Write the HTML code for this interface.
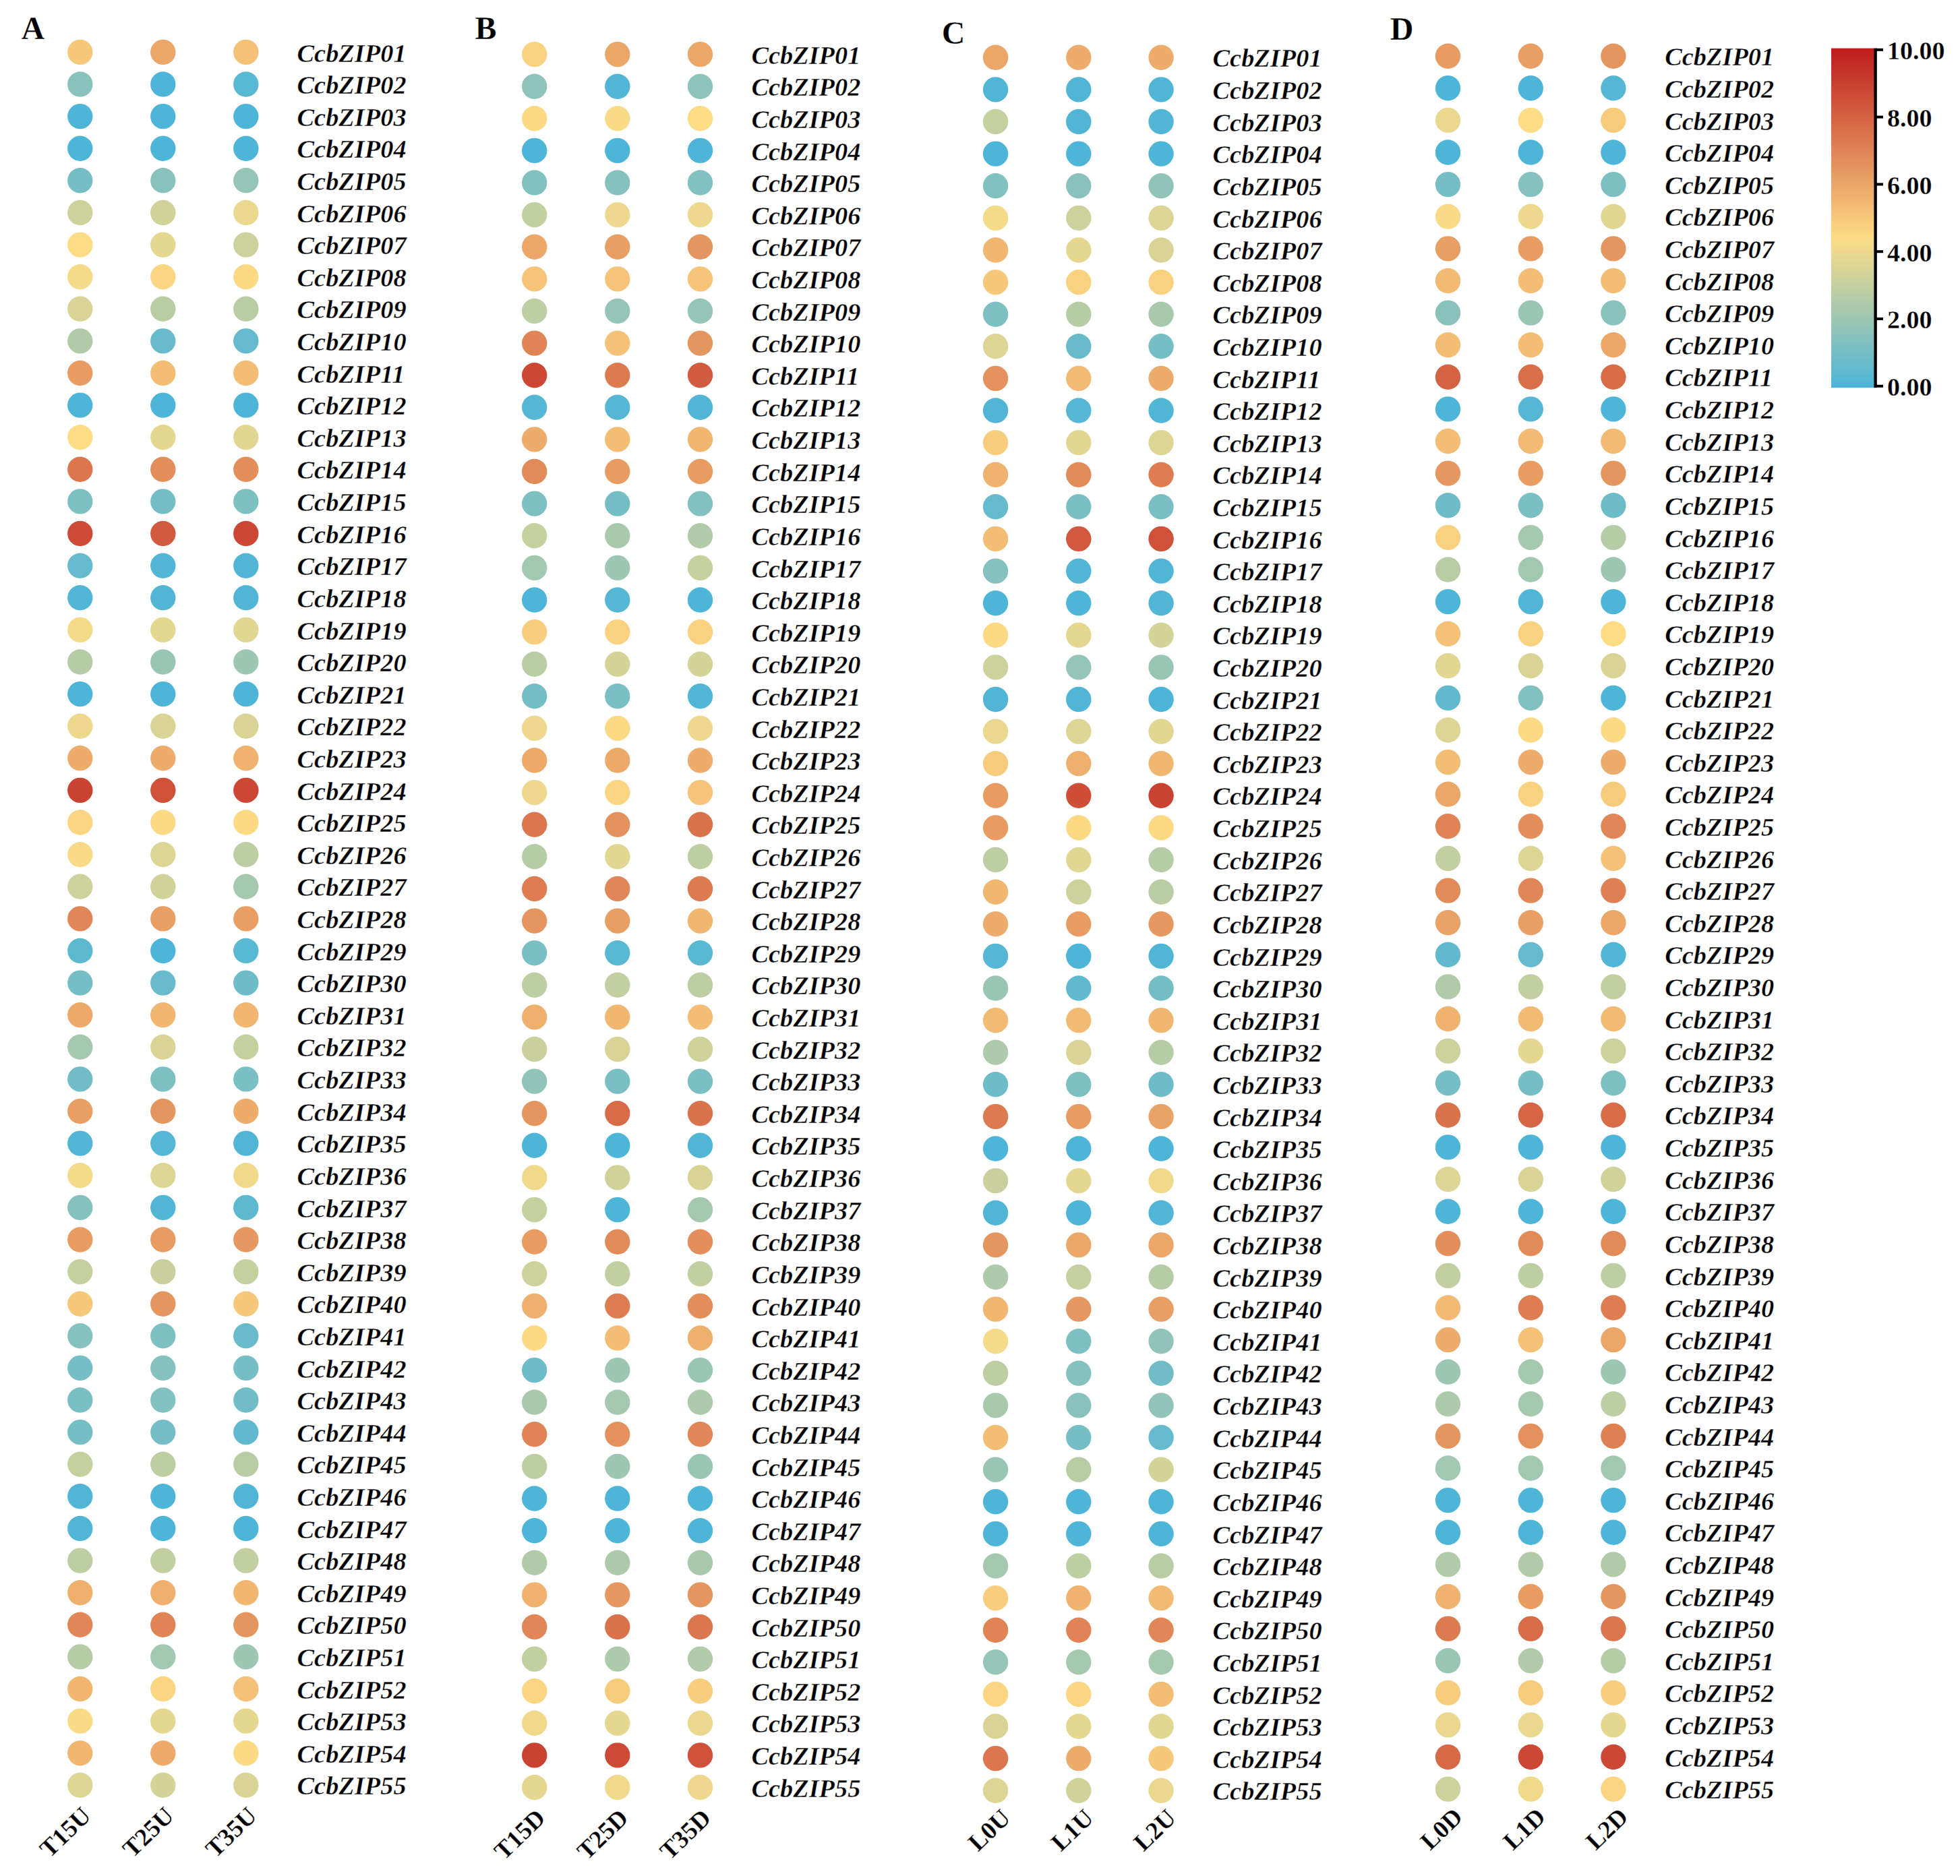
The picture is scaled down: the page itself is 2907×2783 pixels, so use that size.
<!DOCTYPE html>
<html><head><meta charset="utf-8"><title>CcbZIP expression heatmap</title>
<style>
html,body{margin:0;padding:0;background:#fff}
svg{display:block}
text{font-family:"Liberation Serif",serif;fill:#000}
.g{font-size:38.4px;font-weight:bold;font-style:italic;stroke:#fff;stroke-width:0.4px}
.c{font-size:37px;font-weight:bold;text-anchor:end;stroke:#fff;stroke-width:0.3px}
.L{font-size:48px;font-weight:bold;stroke:#fff;stroke-width:0.3px}
.t{font-size:38px;font-weight:bold;stroke:#fff;stroke-width:0.3px}
</style></head><body>
<svg width="2907" height="2783" viewBox="0 0 2907 2783">
<defs><linearGradient id="cb" gradientUnits="userSpaceOnUse" x1="0" y1="572.8" x2="0" y2="73.8"><stop offset="0" stop-color="#4db5d8"/><stop offset="0.440" stop-color="#fddc85"/><stop offset="1" stop-color="#be1e1e"/></linearGradient></defs>
<rect width="2907" height="2783" fill="#fff"/>
<g id="panelA">
<text class="L" x="31.6" y="57.5">A</text>
<circle cx="118.8" cy="77.4" r="18.7" fill="#f6c87a"/><circle cx="241.8" cy="77.4" r="18.7" fill="#eba668"/><circle cx="364.8" cy="77.4" r="18.7" fill="#f4c176"/><text class="g" x="440.5" y="91.5">CcbZIP01</text>
<circle cx="118.8" cy="125.0" r="18.7" fill="#89c2bc"/><circle cx="241.8" cy="125.0" r="18.7" fill="#4db5d8"/><circle cx="364.8" cy="125.0" r="18.7" fill="#59b8d2"/><text class="g" x="440.5" y="139.1">CcbZIP02</text>
<circle cx="118.8" cy="172.6" r="18.7" fill="#4db5d8"/><circle cx="241.8" cy="172.6" r="18.7" fill="#4db5d8"/><circle cx="364.8" cy="172.6" r="18.7" fill="#4db5d8"/><text class="g" x="440.5" y="186.7">CcbZIP03</text>
<circle cx="118.8" cy="220.2" r="18.7" fill="#4db5d8"/><circle cx="241.8" cy="220.2" r="18.7" fill="#4db5d8"/><circle cx="364.8" cy="220.2" r="18.7" fill="#4db5d8"/><text class="g" x="440.5" y="234.3">CcbZIP04</text>
<circle cx="118.8" cy="267.8" r="18.7" fill="#75bec5"/><circle cx="241.8" cy="267.8" r="18.7" fill="#89c2bc"/><circle cx="364.8" cy="267.8" r="18.7" fill="#95c5b6"/><text class="g" x="440.5" y="281.9">CcbZIP05</text>
<circle cx="118.8" cy="315.5" r="18.7" fill="#cdd19c"/><circle cx="241.8" cy="315.5" r="18.7" fill="#d1d29a"/><circle cx="364.8" cy="315.5" r="18.7" fill="#e9d88e"/><text class="g" x="440.5" y="329.6">CcbZIP06</text>
<circle cx="118.8" cy="363.1" r="18.7" fill="#fddc85"/><circle cx="241.8" cy="363.1" r="18.7" fill="#e5d790"/><circle cx="364.8" cy="363.1" r="18.7" fill="#cdd19c"/><text class="g" x="440.5" y="377.2">CcbZIP07</text>
<circle cx="118.8" cy="410.7" r="18.7" fill="#f5da89"/><circle cx="241.8" cy="410.7" r="18.7" fill="#fbd581"/><circle cx="364.8" cy="410.7" r="18.7" fill="#fcd983"/><text class="g" x="440.5" y="424.8">CcbZIP08</text>
<circle cx="118.8" cy="458.3" r="18.7" fill="#d9d496"/><circle cx="241.8" cy="458.3" r="18.7" fill="#b9cda5"/><circle cx="364.8" cy="458.3" r="18.7" fill="#b9cda5"/><text class="g" x="440.5" y="472.4">CcbZIP09</text>
<circle cx="118.8" cy="505.9" r="18.7" fill="#b1cba9"/><circle cx="241.8" cy="505.9" r="18.7" fill="#69bbcb"/><circle cx="364.8" cy="505.9" r="18.7" fill="#65bacd"/><text class="g" x="440.5" y="520.0">CcbZIP10</text>
<circle cx="118.8" cy="553.5" r="18.7" fill="#e89c62"/><circle cx="241.8" cy="553.5" r="18.7" fill="#f3bd74"/><circle cx="364.8" cy="553.5" r="18.7" fill="#f3bd74"/><text class="g" x="440.5" y="567.6">CcbZIP11</text>
<circle cx="118.8" cy="601.1" r="18.7" fill="#4db5d8"/><circle cx="241.8" cy="601.1" r="18.7" fill="#4db5d8"/><circle cx="364.8" cy="601.1" r="18.7" fill="#4db5d8"/><text class="g" x="440.5" y="615.2">CcbZIP12</text>
<circle cx="118.8" cy="648.7" r="18.7" fill="#fddc85"/><circle cx="241.8" cy="648.7" r="18.7" fill="#e5d790"/><circle cx="364.8" cy="648.7" r="18.7" fill="#e1d692"/><text class="g" x="440.5" y="662.8">CcbZIP13</text>
<circle cx="118.8" cy="696.3" r="18.7" fill="#db764e"/><circle cx="241.8" cy="696.3" r="18.7" fill="#e38e5b"/><circle cx="364.8" cy="696.3" r="18.7" fill="#e38e5b"/><text class="g" x="440.5" y="710.4">CcbZIP14</text>
<circle cx="118.8" cy="743.9" r="18.7" fill="#7dc0c1"/><circle cx="241.8" cy="743.9" r="18.7" fill="#75bec5"/><circle cx="364.8" cy="743.9" r="18.7" fill="#7dc0c1"/><text class="g" x="440.5" y="758.0">CcbZIP15</text>
<circle cx="118.8" cy="791.5" r="18.7" fill="#cd4a36"/><circle cx="241.8" cy="791.5" r="18.7" fill="#d25b3f"/><circle cx="364.8" cy="791.5" r="18.7" fill="#cc4734"/><text class="g" x="440.5" y="805.6">CcbZIP16</text>
<circle cx="118.8" cy="839.2" r="18.7" fill="#65bacd"/><circle cx="241.8" cy="839.2" r="18.7" fill="#51b6d6"/><circle cx="364.8" cy="839.2" r="18.7" fill="#51b6d6"/><text class="g" x="440.5" y="853.3">CcbZIP17</text>
<circle cx="118.8" cy="886.8" r="18.7" fill="#51b6d6"/><circle cx="241.8" cy="886.8" r="18.7" fill="#51b6d6"/><circle cx="364.8" cy="886.8" r="18.7" fill="#51b6d6"/><text class="g" x="440.5" y="900.9">CcbZIP18</text>
<circle cx="118.8" cy="934.4" r="18.7" fill="#f5da89"/><circle cx="241.8" cy="934.4" r="18.7" fill="#e5d790"/><circle cx="364.8" cy="934.4" r="18.7" fill="#e1d692"/><text class="g" x="440.5" y="948.5">CcbZIP19</text>
<circle cx="118.8" cy="982.0" r="18.7" fill="#b5cca7"/><circle cx="241.8" cy="982.0" r="18.7" fill="#99c6b4"/><circle cx="364.8" cy="982.0" r="18.7" fill="#9dc7b2"/><text class="g" x="440.5" y="996.1">CcbZIP20</text>
<circle cx="118.8" cy="1029.6" r="18.7" fill="#4db5d8"/><circle cx="241.8" cy="1029.6" r="18.7" fill="#4db5d8"/><circle cx="364.8" cy="1029.6" r="18.7" fill="#4db5d8"/><text class="g" x="440.5" y="1043.7">CcbZIP21</text>
<circle cx="118.8" cy="1077.2" r="18.7" fill="#edd88d"/><circle cx="241.8" cy="1077.2" r="18.7" fill="#d9d496"/><circle cx="364.8" cy="1077.2" r="18.7" fill="#d9d496"/><text class="g" x="440.5" y="1091.3">CcbZIP22</text>
<circle cx="118.8" cy="1124.8" r="18.7" fill="#edac6b"/><circle cx="241.8" cy="1124.8" r="18.7" fill="#edac6b"/><circle cx="364.8" cy="1124.8" r="18.7" fill="#f0b36f"/><text class="g" x="440.5" y="1138.9">CcbZIP23</text>
<circle cx="118.8" cy="1172.4" r="18.7" fill="#ca4332"/><circle cx="241.8" cy="1172.4" r="18.7" fill="#cf513a"/><circle cx="364.8" cy="1172.4" r="18.7" fill="#cc4734"/><text class="g" x="440.5" y="1186.5">CcbZIP24</text>
<circle cx="118.8" cy="1220.0" r="18.7" fill="#fbd581"/><circle cx="241.8" cy="1220.0" r="18.7" fill="#fcd983"/><circle cx="364.8" cy="1220.0" r="18.7" fill="#fcd983"/><text class="g" x="440.5" y="1234.1">CcbZIP25</text>
<circle cx="118.8" cy="1267.7" r="18.7" fill="#f9db87"/><circle cx="241.8" cy="1267.7" r="18.7" fill="#ddd594"/><circle cx="364.8" cy="1267.7" r="18.7" fill="#bdcea3"/><text class="g" x="440.5" y="1281.8">CcbZIP26</text>
<circle cx="118.8" cy="1315.3" r="18.7" fill="#cdd19c"/><circle cx="241.8" cy="1315.3" r="18.7" fill="#d1d29a"/><circle cx="364.8" cy="1315.3" r="18.7" fill="#a5c8ae"/><text class="g" x="440.5" y="1329.4">CcbZIP27</text>
<circle cx="118.8" cy="1362.9" r="18.7" fill="#e18757"/><circle cx="241.8" cy="1362.9" r="18.7" fill="#e99f64"/><circle cx="364.8" cy="1362.9" r="18.7" fill="#e99f64"/><text class="g" x="440.5" y="1377.0">CcbZIP28</text>
<circle cx="118.8" cy="1410.5" r="18.7" fill="#5db9d0"/><circle cx="241.8" cy="1410.5" r="18.7" fill="#4db5d8"/><circle cx="364.8" cy="1410.5" r="18.7" fill="#59b8d2"/><text class="g" x="440.5" y="1424.6">CcbZIP29</text>
<circle cx="118.8" cy="1458.1" r="18.7" fill="#75bec5"/><circle cx="241.8" cy="1458.1" r="18.7" fill="#69bbcb"/><circle cx="364.8" cy="1458.1" r="18.7" fill="#6dbcc9"/><text class="g" x="440.5" y="1472.2">CcbZIP30</text>
<circle cx="118.8" cy="1505.7" r="18.7" fill="#eca969"/><circle cx="241.8" cy="1505.7" r="18.7" fill="#f1b771"/><circle cx="364.8" cy="1505.7" r="18.7" fill="#f1b771"/><text class="g" x="440.5" y="1519.8">CcbZIP31</text>
<circle cx="118.8" cy="1553.3" r="18.7" fill="#a5c8ae"/><circle cx="241.8" cy="1553.3" r="18.7" fill="#d9d496"/><circle cx="364.8" cy="1553.3" r="18.7" fill="#c5d09f"/><text class="g" x="440.5" y="1567.4">CcbZIP32</text>
<circle cx="118.8" cy="1600.9" r="18.7" fill="#71bdc7"/><circle cx="241.8" cy="1600.9" r="18.7" fill="#7dc0c1"/><circle cx="364.8" cy="1600.9" r="18.7" fill="#79bfc3"/><text class="g" x="440.5" y="1615.0">CcbZIP33</text>
<circle cx="118.8" cy="1648.5" r="18.7" fill="#e99f64"/><circle cx="241.8" cy="1648.5" r="18.7" fill="#e5955e"/><circle cx="364.8" cy="1648.5" r="18.7" fill="#edac6b"/><text class="g" x="440.5" y="1662.6">CcbZIP34</text>
<circle cx="118.8" cy="1696.1" r="18.7" fill="#51b6d6"/><circle cx="241.8" cy="1696.1" r="18.7" fill="#55b7d4"/><circle cx="364.8" cy="1696.1" r="18.7" fill="#51b6d6"/><text class="g" x="440.5" y="1710.2">CcbZIP35</text>
<circle cx="118.8" cy="1743.8" r="18.7" fill="#f5da89"/><circle cx="241.8" cy="1743.8" r="18.7" fill="#ddd594"/><circle cx="364.8" cy="1743.8" r="18.7" fill="#f1d98b"/><text class="g" x="440.5" y="1757.8">CcbZIP36</text>
<circle cx="118.8" cy="1791.4" r="18.7" fill="#85c1be"/><circle cx="241.8" cy="1791.4" r="18.7" fill="#51b6d6"/><circle cx="364.8" cy="1791.4" r="18.7" fill="#5db9d0"/><text class="g" x="440.5" y="1805.5">CcbZIP37</text>
<circle cx="118.8" cy="1839.0" r="18.7" fill="#e89c62"/><circle cx="241.8" cy="1839.0" r="18.7" fill="#e89c62"/><circle cx="364.8" cy="1839.0" r="18.7" fill="#e69860"/><text class="g" x="440.5" y="1853.1">CcbZIP38</text>
<circle cx="118.8" cy="1886.6" r="18.7" fill="#c5d09f"/><circle cx="241.8" cy="1886.6" r="18.7" fill="#c9d09e"/><circle cx="364.8" cy="1886.6" r="18.7" fill="#c5d09f"/><text class="g" x="440.5" y="1900.7">CcbZIP39</text>
<circle cx="118.8" cy="1934.2" r="18.7" fill="#f6c87a"/><circle cx="241.8" cy="1934.2" r="18.7" fill="#e5955e"/><circle cx="364.8" cy="1934.2" r="18.7" fill="#f6c87a"/><text class="g" x="440.5" y="1948.3">CcbZIP40</text>
<circle cx="118.8" cy="1981.8" r="18.7" fill="#85c1be"/><circle cx="241.8" cy="1981.8" r="18.7" fill="#7dc0c1"/><circle cx="364.8" cy="1981.8" r="18.7" fill="#69bbcb"/><text class="g" x="440.5" y="1995.9">CcbZIP41</text>
<circle cx="118.8" cy="2029.4" r="18.7" fill="#75bec5"/><circle cx="241.8" cy="2029.4" r="18.7" fill="#85c1be"/><circle cx="364.8" cy="2029.4" r="18.7" fill="#75bec5"/><text class="g" x="440.5" y="2043.5">CcbZIP42</text>
<circle cx="118.8" cy="2077.0" r="18.7" fill="#79bfc3"/><circle cx="241.8" cy="2077.0" r="18.7" fill="#81c1bf"/><circle cx="364.8" cy="2077.0" r="18.7" fill="#71bdc7"/><text class="g" x="440.5" y="2091.1">CcbZIP43</text>
<circle cx="118.8" cy="2124.6" r="18.7" fill="#75bec5"/><circle cx="241.8" cy="2124.6" r="18.7" fill="#75bec5"/><circle cx="364.8" cy="2124.6" r="18.7" fill="#61b9cf"/><text class="g" x="440.5" y="2138.7">CcbZIP44</text>
<circle cx="118.8" cy="2172.2" r="18.7" fill="#c5d09f"/><circle cx="241.8" cy="2172.2" r="18.7" fill="#bdcea3"/><circle cx="364.8" cy="2172.2" r="18.7" fill="#b9cda5"/><text class="g" x="440.5" y="2186.3">CcbZIP45</text>
<circle cx="118.8" cy="2219.8" r="18.7" fill="#51b6d6"/><circle cx="241.8" cy="2219.8" r="18.7" fill="#4db5d8"/><circle cx="364.8" cy="2219.8" r="18.7" fill="#51b6d6"/><text class="g" x="440.5" y="2233.9">CcbZIP46</text>
<circle cx="118.8" cy="2267.5" r="18.7" fill="#51b6d6"/><circle cx="241.8" cy="2267.5" r="18.7" fill="#4db5d8"/><circle cx="364.8" cy="2267.5" r="18.7" fill="#4db5d8"/><text class="g" x="440.5" y="2281.6">CcbZIP47</text>
<circle cx="118.8" cy="2315.1" r="18.7" fill="#bdcea3"/><circle cx="241.8" cy="2315.1" r="18.7" fill="#c1cfa1"/><circle cx="364.8" cy="2315.1" r="18.7" fill="#c1cfa1"/><text class="g" x="440.5" y="2329.2">CcbZIP48</text>
<circle cx="118.8" cy="2362.7" r="18.7" fill="#eeb06d"/><circle cx="241.8" cy="2362.7" r="18.7" fill="#eeb06d"/><circle cx="364.8" cy="2362.7" r="18.7" fill="#f1b771"/><text class="g" x="440.5" y="2376.8">CcbZIP49</text>
<circle cx="118.8" cy="2410.3" r="18.7" fill="#e18757"/><circle cx="241.8" cy="2410.3" r="18.7" fill="#e08455"/><circle cx="364.8" cy="2410.3" r="18.7" fill="#e5955e"/><text class="g" x="440.5" y="2424.4">CcbZIP50</text>
<circle cx="118.8" cy="2457.9" r="18.7" fill="#b5cca7"/><circle cx="241.8" cy="2457.9" r="18.7" fill="#a1c8b0"/><circle cx="364.8" cy="2457.9" r="18.7" fill="#9dc7b2"/><text class="g" x="440.5" y="2472.0">CcbZIP51</text>
<circle cx="118.8" cy="2505.5" r="18.7" fill="#f1b771"/><circle cx="241.8" cy="2505.5" r="18.7" fill="#fbd581"/><circle cx="364.8" cy="2505.5" r="18.7" fill="#f4c176"/><text class="g" x="440.5" y="2519.6">CcbZIP52</text>
<circle cx="118.8" cy="2553.1" r="18.7" fill="#f9db87"/><circle cx="241.8" cy="2553.1" r="18.7" fill="#e5d790"/><circle cx="364.8" cy="2553.1" r="18.7" fill="#e5d790"/><text class="g" x="440.5" y="2567.2">CcbZIP53</text>
<circle cx="118.8" cy="2600.7" r="18.7" fill="#f1b771"/><circle cx="241.8" cy="2600.7" r="18.7" fill="#eca969"/><circle cx="364.8" cy="2600.7" r="18.7" fill="#fcd983"/><text class="g" x="440.5" y="2614.8">CcbZIP54</text>
<circle cx="118.8" cy="2648.3" r="18.7" fill="#ddd594"/><circle cx="241.8" cy="2648.3" r="18.7" fill="#d5d398"/><circle cx="364.8" cy="2648.3" r="18.7" fill="#d9d496"/><text class="g" x="440.5" y="2662.4">CcbZIP55</text>
<text class="c" transform="translate(137.1 2696.2) rotate(-44)">T15U</text>
<text class="c" transform="translate(260.1 2696.2) rotate(-44)">T25U</text>
<text class="c" transform="translate(383.1 2696.2) rotate(-44)">T35U</text>
</g>
<g id="panelB">
<text class="L" x="704.4" y="57.8">B</text>
<circle cx="792.7" cy="80.6" r="18.7" fill="#fad27f"/><circle cx="915.8" cy="80.6" r="18.7" fill="#eba668"/><circle cx="1038.5" cy="80.6" r="18.7" fill="#eba668"/><text class="g" x="1114.4" y="94.7">CcbZIP01</text>
<circle cx="792.7" cy="128.2" r="18.7" fill="#8dc3ba"/><circle cx="915.8" cy="128.2" r="18.7" fill="#51b6d6"/><circle cx="1038.5" cy="128.2" r="18.7" fill="#8dc3ba"/><text class="g" x="1114.4" y="142.3">CcbZIP02</text>
<circle cx="792.7" cy="175.8" r="18.7" fill="#fcd983"/><circle cx="915.8" cy="175.8" r="18.7" fill="#f9db87"/><circle cx="1038.5" cy="175.8" r="18.7" fill="#fddc85"/><text class="g" x="1114.4" y="189.9">CcbZIP03</text>
<circle cx="792.7" cy="223.4" r="18.7" fill="#4db5d8"/><circle cx="915.8" cy="223.4" r="18.7" fill="#4db5d8"/><circle cx="1038.5" cy="223.4" r="18.7" fill="#4db5d8"/><text class="g" x="1114.4" y="237.5">CcbZIP04</text>
<circle cx="792.7" cy="271.0" r="18.7" fill="#81c1bf"/><circle cx="915.8" cy="271.0" r="18.7" fill="#85c1be"/><circle cx="1038.5" cy="271.0" r="18.7" fill="#81c1bf"/><text class="g" x="1114.4" y="285.1">CcbZIP05</text>
<circle cx="792.7" cy="318.6" r="18.7" fill="#c1cfa1"/><circle cx="915.8" cy="318.6" r="18.7" fill="#edd88d"/><circle cx="1038.5" cy="318.6" r="18.7" fill="#edd88d"/><text class="g" x="1114.4" y="332.8">CcbZIP06</text>
<circle cx="792.7" cy="366.3" r="18.7" fill="#eba668"/><circle cx="915.8" cy="366.3" r="18.7" fill="#e99f64"/><circle cx="1038.5" cy="366.3" r="18.7" fill="#e5955e"/><text class="g" x="1114.4" y="380.4">CcbZIP07</text>
<circle cx="792.7" cy="413.9" r="18.7" fill="#f5c478"/><circle cx="915.8" cy="413.9" r="18.7" fill="#f5c478"/><circle cx="1038.5" cy="413.9" r="18.7" fill="#f5c478"/><text class="g" x="1114.4" y="428.0">CcbZIP08</text>
<circle cx="792.7" cy="461.5" r="18.7" fill="#bdcea3"/><circle cx="915.8" cy="461.5" r="18.7" fill="#95c5b6"/><circle cx="1038.5" cy="461.5" r="18.7" fill="#95c5b6"/><text class="g" x="1114.4" y="475.6">CcbZIP09</text>
<circle cx="792.7" cy="509.1" r="18.7" fill="#e08455"/><circle cx="915.8" cy="509.1" r="18.7" fill="#f4c176"/><circle cx="1038.5" cy="509.1" r="18.7" fill="#e5955e"/><text class="g" x="1114.4" y="523.2">CcbZIP10</text>
<circle cx="792.7" cy="556.7" r="18.7" fill="#cc4734"/><circle cx="915.8" cy="556.7" r="18.7" fill="#dc7a50"/><circle cx="1038.5" cy="556.7" r="18.7" fill="#d25b3f"/><text class="g" x="1114.4" y="570.8">CcbZIP11</text>
<circle cx="792.7" cy="604.3" r="18.7" fill="#55b7d4"/><circle cx="915.8" cy="604.3" r="18.7" fill="#55b7d4"/><circle cx="1038.5" cy="604.3" r="18.7" fill="#51b6d6"/><text class="g" x="1114.4" y="618.4">CcbZIP12</text>
<circle cx="792.7" cy="651.9" r="18.7" fill="#edac6b"/><circle cx="915.8" cy="651.9" r="18.7" fill="#f3bd74"/><circle cx="1038.5" cy="651.9" r="18.7" fill="#f1b771"/><text class="g" x="1114.4" y="666.0">CcbZIP13</text>
<circle cx="792.7" cy="699.5" r="18.7" fill="#e28b59"/><circle cx="915.8" cy="699.5" r="18.7" fill="#e89c62"/><circle cx="1038.5" cy="699.5" r="18.7" fill="#e89c62"/><text class="g" x="1114.4" y="713.6">CcbZIP14</text>
<circle cx="792.7" cy="747.1" r="18.7" fill="#7dc0c1"/><circle cx="915.8" cy="747.1" r="18.7" fill="#75bec5"/><circle cx="1038.5" cy="747.1" r="18.7" fill="#81c1bf"/><text class="g" x="1114.4" y="761.2">CcbZIP15</text>
<circle cx="792.7" cy="794.8" r="18.7" fill="#c5d09f"/><circle cx="915.8" cy="794.8" r="18.7" fill="#a9c9ad"/><circle cx="1038.5" cy="794.8" r="18.7" fill="#b1cba9"/><text class="g" x="1114.4" y="808.9">CcbZIP16</text>
<circle cx="792.7" cy="842.4" r="18.7" fill="#a1c8b0"/><circle cx="915.8" cy="842.4" r="18.7" fill="#9dc7b2"/><circle cx="1038.5" cy="842.4" r="18.7" fill="#c5d09f"/><text class="g" x="1114.4" y="856.5">CcbZIP17</text>
<circle cx="792.7" cy="890.0" r="18.7" fill="#4db5d8"/><circle cx="915.8" cy="890.0" r="18.7" fill="#55b7d4"/><circle cx="1038.5" cy="890.0" r="18.7" fill="#4db5d8"/><text class="g" x="1114.4" y="904.1">CcbZIP18</text>
<circle cx="792.7" cy="937.6" r="18.7" fill="#f8ce7e"/><circle cx="915.8" cy="937.6" r="18.7" fill="#fad27f"/><circle cx="1038.5" cy="937.6" r="18.7" fill="#fad27f"/><text class="g" x="1114.4" y="951.7">CcbZIP19</text>
<circle cx="792.7" cy="985.2" r="18.7" fill="#b9cda5"/><circle cx="915.8" cy="985.2" r="18.7" fill="#d5d398"/><circle cx="1038.5" cy="985.2" r="18.7" fill="#d5d398"/><text class="g" x="1114.4" y="999.3">CcbZIP20</text>
<circle cx="792.7" cy="1032.8" r="18.7" fill="#75bec5"/><circle cx="915.8" cy="1032.8" r="18.7" fill="#79bfc3"/><circle cx="1038.5" cy="1032.8" r="18.7" fill="#51b6d6"/><text class="g" x="1114.4" y="1046.9">CcbZIP21</text>
<circle cx="792.7" cy="1080.4" r="18.7" fill="#edd88d"/><circle cx="915.8" cy="1080.4" r="18.7" fill="#fcd983"/><circle cx="1038.5" cy="1080.4" r="18.7" fill="#edd88d"/><text class="g" x="1114.4" y="1094.5">CcbZIP22</text>
<circle cx="792.7" cy="1128.0" r="18.7" fill="#eca969"/><circle cx="915.8" cy="1128.0" r="18.7" fill="#eca969"/><circle cx="1038.5" cy="1128.0" r="18.7" fill="#edac6b"/><text class="g" x="1114.4" y="1142.1">CcbZIP23</text>
<circle cx="792.7" cy="1175.6" r="18.7" fill="#edd88d"/><circle cx="915.8" cy="1175.6" r="18.7" fill="#fbd581"/><circle cx="1038.5" cy="1175.6" r="18.7" fill="#f5c478"/><text class="g" x="1114.4" y="1189.7">CcbZIP24</text>
<circle cx="792.7" cy="1223.2" r="18.7" fill="#db764e"/><circle cx="915.8" cy="1223.2" r="18.7" fill="#e4915d"/><circle cx="1038.5" cy="1223.2" r="18.7" fill="#da734c"/><text class="g" x="1114.4" y="1237.3">CcbZIP25</text>
<circle cx="792.7" cy="1270.8" r="18.7" fill="#b5cca7"/><circle cx="915.8" cy="1270.8" r="18.7" fill="#e1d692"/><circle cx="1038.5" cy="1270.8" r="18.7" fill="#bdcea3"/><text class="g" x="1114.4" y="1284.9">CcbZIP26</text>
<circle cx="792.7" cy="1318.5" r="18.7" fill="#de7d52"/><circle cx="915.8" cy="1318.5" r="18.7" fill="#e18757"/><circle cx="1038.5" cy="1318.5" r="18.7" fill="#dc7a50"/><text class="g" x="1114.4" y="1332.6">CcbZIP27</text>
<circle cx="792.7" cy="1366.1" r="18.7" fill="#e5955e"/><circle cx="915.8" cy="1366.1" r="18.7" fill="#e99f64"/><circle cx="1038.5" cy="1366.1" r="18.7" fill="#f1b771"/><text class="g" x="1114.4" y="1380.2">CcbZIP28</text>
<circle cx="792.7" cy="1413.7" r="18.7" fill="#79bfc3"/><circle cx="915.8" cy="1413.7" r="18.7" fill="#59b8d2"/><circle cx="1038.5" cy="1413.7" r="18.7" fill="#59b8d2"/><text class="g" x="1114.4" y="1427.8">CcbZIP29</text>
<circle cx="792.7" cy="1461.3" r="18.7" fill="#bdcea3"/><circle cx="915.8" cy="1461.3" r="18.7" fill="#c1cfa1"/><circle cx="1038.5" cy="1461.3" r="18.7" fill="#bdcea3"/><text class="g" x="1114.4" y="1475.4">CcbZIP30</text>
<circle cx="792.7" cy="1508.9" r="18.7" fill="#eeb06d"/><circle cx="915.8" cy="1508.9" r="18.7" fill="#f1b771"/><circle cx="1038.5" cy="1508.9" r="18.7" fill="#f3bd74"/><text class="g" x="1114.4" y="1523.0">CcbZIP31</text>
<circle cx="792.7" cy="1556.5" r="18.7" fill="#c9d09e"/><circle cx="915.8" cy="1556.5" r="18.7" fill="#d9d496"/><circle cx="1038.5" cy="1556.5" r="18.7" fill="#d1d29a"/><text class="g" x="1114.4" y="1570.6">CcbZIP32</text>
<circle cx="792.7" cy="1604.1" r="18.7" fill="#91c4b8"/><circle cx="915.8" cy="1604.1" r="18.7" fill="#79bfc3"/><circle cx="1038.5" cy="1604.1" r="18.7" fill="#79bfc3"/><text class="g" x="1114.4" y="1618.2">CcbZIP33</text>
<circle cx="792.7" cy="1651.7" r="18.7" fill="#e5955e"/><circle cx="915.8" cy="1651.7" r="18.7" fill="#d86c48"/><circle cx="1038.5" cy="1651.7" r="18.7" fill="#da734c"/><text class="g" x="1114.4" y="1665.8">CcbZIP34</text>
<circle cx="792.7" cy="1699.3" r="18.7" fill="#4db5d8"/><circle cx="915.8" cy="1699.3" r="18.7" fill="#4db5d8"/><circle cx="1038.5" cy="1699.3" r="18.7" fill="#51b6d6"/><text class="g" x="1114.4" y="1713.4">CcbZIP35</text>
<circle cx="792.7" cy="1746.9" r="18.7" fill="#f1d98b"/><circle cx="915.8" cy="1746.9" r="18.7" fill="#d1d29a"/><circle cx="1038.5" cy="1746.9" r="18.7" fill="#d9d496"/><text class="g" x="1114.4" y="1761.0">CcbZIP36</text>
<circle cx="792.7" cy="1794.6" r="18.7" fill="#c5d09f"/><circle cx="915.8" cy="1794.6" r="18.7" fill="#4db5d8"/><circle cx="1038.5" cy="1794.6" r="18.7" fill="#a5c8ae"/><text class="g" x="1114.4" y="1808.7">CcbZIP37</text>
<circle cx="792.7" cy="1842.2" r="18.7" fill="#e89c62"/><circle cx="915.8" cy="1842.2" r="18.7" fill="#e28b59"/><circle cx="1038.5" cy="1842.2" r="18.7" fill="#e38e5b"/><text class="g" x="1114.4" y="1856.3">CcbZIP38</text>
<circle cx="792.7" cy="1889.8" r="18.7" fill="#cdd19c"/><circle cx="915.8" cy="1889.8" r="18.7" fill="#c1cfa1"/><circle cx="1038.5" cy="1889.8" r="18.7" fill="#c1cfa1"/><text class="g" x="1114.4" y="1903.9">CcbZIP39</text>
<circle cx="792.7" cy="1937.4" r="18.7" fill="#eeb06d"/><circle cx="915.8" cy="1937.4" r="18.7" fill="#de7d52"/><circle cx="1038.5" cy="1937.4" r="18.7" fill="#e38e5b"/><text class="g" x="1114.4" y="1951.5">CcbZIP40</text>
<circle cx="792.7" cy="1985.0" r="18.7" fill="#fcd983"/><circle cx="915.8" cy="1985.0" r="18.7" fill="#f3bd74"/><circle cx="1038.5" cy="1985.0" r="18.7" fill="#eeb06d"/><text class="g" x="1114.4" y="1999.1">CcbZIP41</text>
<circle cx="792.7" cy="2032.6" r="18.7" fill="#6dbcc9"/><circle cx="915.8" cy="2032.6" r="18.7" fill="#9dc7b2"/><circle cx="1038.5" cy="2032.6" r="18.7" fill="#99c6b4"/><text class="g" x="1114.4" y="2046.7">CcbZIP42</text>
<circle cx="792.7" cy="2080.2" r="18.7" fill="#a9c9ad"/><circle cx="915.8" cy="2080.2" r="18.7" fill="#a5c8ae"/><circle cx="1038.5" cy="2080.2" r="18.7" fill="#adcaab"/><text class="g" x="1114.4" y="2094.3">CcbZIP43</text>
<circle cx="792.7" cy="2127.8" r="18.7" fill="#e08455"/><circle cx="915.8" cy="2127.8" r="18.7" fill="#e4915d"/><circle cx="1038.5" cy="2127.8" r="18.7" fill="#e18757"/><text class="g" x="1114.4" y="2141.9">CcbZIP44</text>
<circle cx="792.7" cy="2175.4" r="18.7" fill="#bdcea3"/><circle cx="915.8" cy="2175.4" r="18.7" fill="#9dc7b2"/><circle cx="1038.5" cy="2175.4" r="18.7" fill="#99c6b4"/><text class="g" x="1114.4" y="2189.5">CcbZIP45</text>
<circle cx="792.7" cy="2223.0" r="18.7" fill="#4db5d8"/><circle cx="915.8" cy="2223.0" r="18.7" fill="#4db5d8"/><circle cx="1038.5" cy="2223.0" r="18.7" fill="#4db5d8"/><text class="g" x="1114.4" y="2237.1">CcbZIP46</text>
<circle cx="792.7" cy="2270.7" r="18.7" fill="#4db5d8"/><circle cx="915.8" cy="2270.7" r="18.7" fill="#4db5d8"/><circle cx="1038.5" cy="2270.7" r="18.7" fill="#4db5d8"/><text class="g" x="1114.4" y="2284.8">CcbZIP47</text>
<circle cx="792.7" cy="2318.3" r="18.7" fill="#b1cba9"/><circle cx="915.8" cy="2318.3" r="18.7" fill="#adcaab"/><circle cx="1038.5" cy="2318.3" r="18.7" fill="#a9c9ad"/><text class="g" x="1114.4" y="2332.4">CcbZIP48</text>
<circle cx="792.7" cy="2365.9" r="18.7" fill="#f0b36f"/><circle cx="915.8" cy="2365.9" r="18.7" fill="#e69860"/><circle cx="1038.5" cy="2365.9" r="18.7" fill="#e5955e"/><text class="g" x="1114.4" y="2380.0">CcbZIP49</text>
<circle cx="792.7" cy="2413.5" r="18.7" fill="#e18757"/><circle cx="915.8" cy="2413.5" r="18.7" fill="#da734c"/><circle cx="1038.5" cy="2413.5" r="18.7" fill="#db764e"/><text class="g" x="1114.4" y="2427.6">CcbZIP50</text>
<circle cx="792.7" cy="2461.1" r="18.7" fill="#c1cfa1"/><circle cx="915.8" cy="2461.1" r="18.7" fill="#adcaab"/><circle cx="1038.5" cy="2461.1" r="18.7" fill="#b1cba9"/><text class="g" x="1114.4" y="2475.2">CcbZIP51</text>
<circle cx="792.7" cy="2508.7" r="18.7" fill="#fbd581"/><circle cx="915.8" cy="2508.7" r="18.7" fill="#f7cb7c"/><circle cx="1038.5" cy="2508.7" r="18.7" fill="#f8ce7e"/><text class="g" x="1114.4" y="2522.8">CcbZIP52</text>
<circle cx="792.7" cy="2556.3" r="18.7" fill="#f1d98b"/><circle cx="915.8" cy="2556.3" r="18.7" fill="#e5d790"/><circle cx="1038.5" cy="2556.3" r="18.7" fill="#e9d88e"/><text class="g" x="1114.4" y="2570.4">CcbZIP53</text>
<circle cx="792.7" cy="2603.9" r="18.7" fill="#ca4332"/><circle cx="915.8" cy="2603.9" r="18.7" fill="#cd4a36"/><circle cx="1038.5" cy="2603.9" r="18.7" fill="#cf513a"/><text class="g" x="1114.4" y="2618.0">CcbZIP54</text>
<circle cx="792.7" cy="2651.5" r="18.7" fill="#e5d790"/><circle cx="915.8" cy="2651.5" r="18.7" fill="#f1d98b"/><circle cx="1038.5" cy="2651.5" r="18.7" fill="#edd88d"/><text class="g" x="1114.4" y="2665.6">CcbZIP55</text>
<text class="c" transform="translate(811.0 2699.4) rotate(-44)">T15D</text>
<text class="c" transform="translate(934.1 2699.4) rotate(-44)">T25D</text>
<text class="c" transform="translate(1056.8 2699.4) rotate(-44)">T35D</text>
</g>
<g id="panelC">
<text class="L" x="1396.8" y="64.8">C</text>
<circle cx="1476.6" cy="85.3" r="18.7" fill="#eba668"/><circle cx="1599.8" cy="85.3" r="18.7" fill="#edac6b"/><circle cx="1722.1" cy="85.3" r="18.7" fill="#edac6b"/><text class="g" x="1798.5" y="99.4">CcbZIP01</text>
<circle cx="1476.6" cy="132.9" r="18.7" fill="#51b6d6"/><circle cx="1599.8" cy="132.9" r="18.7" fill="#51b6d6"/><circle cx="1722.1" cy="132.9" r="18.7" fill="#51b6d6"/><text class="g" x="1798.5" y="147.0">CcbZIP02</text>
<circle cx="1476.6" cy="180.5" r="18.7" fill="#c5d09f"/><circle cx="1599.8" cy="180.5" r="18.7" fill="#51b6d6"/><circle cx="1722.1" cy="180.5" r="18.7" fill="#51b6d6"/><text class="g" x="1798.5" y="194.6">CcbZIP03</text>
<circle cx="1476.6" cy="228.1" r="18.7" fill="#4db5d8"/><circle cx="1599.8" cy="228.1" r="18.7" fill="#4db5d8"/><circle cx="1722.1" cy="228.1" r="18.7" fill="#4db5d8"/><text class="g" x="1798.5" y="242.2">CcbZIP04</text>
<circle cx="1476.6" cy="275.7" r="18.7" fill="#81c1bf"/><circle cx="1599.8" cy="275.7" r="18.7" fill="#89c2bc"/><circle cx="1722.1" cy="275.7" r="18.7" fill="#91c4b8"/><text class="g" x="1798.5" y="289.8">CcbZIP05</text>
<circle cx="1476.6" cy="323.4" r="18.7" fill="#f5da89"/><circle cx="1599.8" cy="323.4" r="18.7" fill="#cdd19c"/><circle cx="1722.1" cy="323.4" r="18.7" fill="#ddd594"/><text class="g" x="1798.5" y="337.5">CcbZIP06</text>
<circle cx="1476.6" cy="371.0" r="18.7" fill="#f1b771"/><circle cx="1599.8" cy="371.0" r="18.7" fill="#e5d790"/><circle cx="1722.1" cy="371.0" r="18.7" fill="#d9d496"/><text class="g" x="1798.5" y="385.1">CcbZIP07</text>
<circle cx="1476.6" cy="418.6" r="18.7" fill="#f6c87a"/><circle cx="1599.8" cy="418.6" r="18.7" fill="#fad27f"/><circle cx="1722.1" cy="418.6" r="18.7" fill="#fad27f"/><text class="g" x="1798.5" y="432.7">CcbZIP08</text>
<circle cx="1476.6" cy="466.2" r="18.7" fill="#7dc0c1"/><circle cx="1599.8" cy="466.2" r="18.7" fill="#b5cca7"/><circle cx="1722.1" cy="466.2" r="18.7" fill="#a9c9ad"/><text class="g" x="1798.5" y="480.3">CcbZIP09</text>
<circle cx="1476.6" cy="513.8" r="18.7" fill="#ddd594"/><circle cx="1599.8" cy="513.8" r="18.7" fill="#69bbcb"/><circle cx="1722.1" cy="513.8" r="18.7" fill="#75bec5"/><text class="g" x="1798.5" y="527.9">CcbZIP10</text>
<circle cx="1476.6" cy="561.4" r="18.7" fill="#e4915d"/><circle cx="1599.8" cy="561.4" r="18.7" fill="#f2ba73"/><circle cx="1722.1" cy="561.4" r="18.7" fill="#edac6b"/><text class="g" x="1798.5" y="575.5">CcbZIP11</text>
<circle cx="1476.6" cy="609.0" r="18.7" fill="#51b6d6"/><circle cx="1599.8" cy="609.0" r="18.7" fill="#55b7d4"/><circle cx="1722.1" cy="609.0" r="18.7" fill="#51b6d6"/><text class="g" x="1798.5" y="623.1">CcbZIP12</text>
<circle cx="1476.6" cy="656.6" r="18.7" fill="#f8ce7e"/><circle cx="1599.8" cy="656.6" r="18.7" fill="#e1d692"/><circle cx="1722.1" cy="656.6" r="18.7" fill="#ddd594"/><text class="g" x="1798.5" y="670.7">CcbZIP13</text>
<circle cx="1476.6" cy="704.2" r="18.7" fill="#f0b36f"/><circle cx="1599.8" cy="704.2" r="18.7" fill="#e28b59"/><circle cx="1722.1" cy="704.2" r="18.7" fill="#de7d52"/><text class="g" x="1798.5" y="718.3">CcbZIP14</text>
<circle cx="1476.6" cy="751.8" r="18.7" fill="#65bacd"/><circle cx="1599.8" cy="751.8" r="18.7" fill="#79bfc3"/><circle cx="1722.1" cy="751.8" r="18.7" fill="#79bfc3"/><text class="g" x="1798.5" y="765.9">CcbZIP15</text>
<circle cx="1476.6" cy="799.4" r="18.7" fill="#f3bd74"/><circle cx="1599.8" cy="799.4" r="18.7" fill="#d1583d"/><circle cx="1722.1" cy="799.4" r="18.7" fill="#cf513a"/><text class="g" x="1798.5" y="813.5">CcbZIP16</text>
<circle cx="1476.6" cy="847.1" r="18.7" fill="#85c1be"/><circle cx="1599.8" cy="847.1" r="18.7" fill="#51b6d6"/><circle cx="1722.1" cy="847.1" r="18.7" fill="#51b6d6"/><text class="g" x="1798.5" y="861.2">CcbZIP17</text>
<circle cx="1476.6" cy="894.7" r="18.7" fill="#4db5d8"/><circle cx="1599.8" cy="894.7" r="18.7" fill="#4db5d8"/><circle cx="1722.1" cy="894.7" r="18.7" fill="#51b6d6"/><text class="g" x="1798.5" y="908.8">CcbZIP18</text>
<circle cx="1476.6" cy="942.3" r="18.7" fill="#fcd983"/><circle cx="1599.8" cy="942.3" r="18.7" fill="#e5d790"/><circle cx="1722.1" cy="942.3" r="18.7" fill="#d5d398"/><text class="g" x="1798.5" y="956.4">CcbZIP19</text>
<circle cx="1476.6" cy="989.9" r="18.7" fill="#cdd19c"/><circle cx="1599.8" cy="989.9" r="18.7" fill="#95c5b6"/><circle cx="1722.1" cy="989.9" r="18.7" fill="#99c6b4"/><text class="g" x="1798.5" y="1004.0">CcbZIP20</text>
<circle cx="1476.6" cy="1037.5" r="18.7" fill="#51b6d6"/><circle cx="1599.8" cy="1037.5" r="18.7" fill="#51b6d6"/><circle cx="1722.1" cy="1037.5" r="18.7" fill="#4db5d8"/><text class="g" x="1798.5" y="1051.6">CcbZIP21</text>
<circle cx="1476.6" cy="1085.1" r="18.7" fill="#e9d88e"/><circle cx="1599.8" cy="1085.1" r="18.7" fill="#ddd594"/><circle cx="1722.1" cy="1085.1" r="18.7" fill="#e1d692"/><text class="g" x="1798.5" y="1099.2">CcbZIP22</text>
<circle cx="1476.6" cy="1132.7" r="18.7" fill="#f7cb7c"/><circle cx="1599.8" cy="1132.7" r="18.7" fill="#eeb06d"/><circle cx="1722.1" cy="1132.7" r="18.7" fill="#f1b771"/><text class="g" x="1798.5" y="1146.8">CcbZIP23</text>
<circle cx="1476.6" cy="1180.3" r="18.7" fill="#e89c62"/><circle cx="1599.8" cy="1180.3" r="18.7" fill="#ce4e38"/><circle cx="1722.1" cy="1180.3" r="18.7" fill="#ca4332"/><text class="g" x="1798.5" y="1194.4">CcbZIP24</text>
<circle cx="1476.6" cy="1227.9" r="18.7" fill="#e89c62"/><circle cx="1599.8" cy="1227.9" r="18.7" fill="#fcd983"/><circle cx="1722.1" cy="1227.9" r="18.7" fill="#fcd983"/><text class="g" x="1798.5" y="1242.0">CcbZIP25</text>
<circle cx="1476.6" cy="1275.5" r="18.7" fill="#bdcea3"/><circle cx="1599.8" cy="1275.5" r="18.7" fill="#e1d692"/><circle cx="1722.1" cy="1275.5" r="18.7" fill="#b5cca7"/><text class="g" x="1798.5" y="1289.6">CcbZIP26</text>
<circle cx="1476.6" cy="1323.2" r="18.7" fill="#f1b771"/><circle cx="1599.8" cy="1323.2" r="18.7" fill="#cdd19c"/><circle cx="1722.1" cy="1323.2" r="18.7" fill="#b9cda5"/><text class="g" x="1798.5" y="1337.3">CcbZIP27</text>
<circle cx="1476.6" cy="1370.8" r="18.7" fill="#edac6b"/><circle cx="1599.8" cy="1370.8" r="18.7" fill="#e89c62"/><circle cx="1722.1" cy="1370.8" r="18.7" fill="#e69860"/><text class="g" x="1798.5" y="1384.9">CcbZIP28</text>
<circle cx="1476.6" cy="1418.4" r="18.7" fill="#55b7d4"/><circle cx="1599.8" cy="1418.4" r="18.7" fill="#4db5d8"/><circle cx="1722.1" cy="1418.4" r="18.7" fill="#51b6d6"/><text class="g" x="1798.5" y="1432.5">CcbZIP29</text>
<circle cx="1476.6" cy="1466.0" r="18.7" fill="#99c6b4"/><circle cx="1599.8" cy="1466.0" r="18.7" fill="#61b9cf"/><circle cx="1722.1" cy="1466.0" r="18.7" fill="#75bec5"/><text class="g" x="1798.5" y="1480.1">CcbZIP30</text>
<circle cx="1476.6" cy="1513.6" r="18.7" fill="#f2ba73"/><circle cx="1599.8" cy="1513.6" r="18.7" fill="#f2ba73"/><circle cx="1722.1" cy="1513.6" r="18.7" fill="#f1b771"/><text class="g" x="1798.5" y="1527.7">CcbZIP31</text>
<circle cx="1476.6" cy="1561.2" r="18.7" fill="#adcaab"/><circle cx="1599.8" cy="1561.2" r="18.7" fill="#d9d496"/><circle cx="1722.1" cy="1561.2" r="18.7" fill="#b5cca7"/><text class="g" x="1798.5" y="1575.3">CcbZIP32</text>
<circle cx="1476.6" cy="1608.8" r="18.7" fill="#6dbcc9"/><circle cx="1599.8" cy="1608.8" r="18.7" fill="#7dc0c1"/><circle cx="1722.1" cy="1608.8" r="18.7" fill="#6dbcc9"/><text class="g" x="1798.5" y="1622.9">CcbZIP33</text>
<circle cx="1476.6" cy="1656.4" r="18.7" fill="#dc7a50"/><circle cx="1599.8" cy="1656.4" r="18.7" fill="#e89c62"/><circle cx="1722.1" cy="1656.4" r="18.7" fill="#eaa266"/><text class="g" x="1798.5" y="1670.5">CcbZIP34</text>
<circle cx="1476.6" cy="1704.0" r="18.7" fill="#4db5d8"/><circle cx="1599.8" cy="1704.0" r="18.7" fill="#4db5d8"/><circle cx="1722.1" cy="1704.0" r="18.7" fill="#4db5d8"/><text class="g" x="1798.5" y="1718.1">CcbZIP35</text>
<circle cx="1476.6" cy="1751.6" r="18.7" fill="#c9d09e"/><circle cx="1599.8" cy="1751.6" r="18.7" fill="#e5d790"/><circle cx="1722.1" cy="1751.6" r="18.7" fill="#f1d98b"/><text class="g" x="1798.5" y="1765.7">CcbZIP36</text>
<circle cx="1476.6" cy="1799.3" r="18.7" fill="#51b6d6"/><circle cx="1599.8" cy="1799.3" r="18.7" fill="#4db5d8"/><circle cx="1722.1" cy="1799.3" r="18.7" fill="#51b6d6"/><text class="g" x="1798.5" y="1813.4">CcbZIP37</text>
<circle cx="1476.6" cy="1846.9" r="18.7" fill="#e5955e"/><circle cx="1599.8" cy="1846.9" r="18.7" fill="#eba668"/><circle cx="1722.1" cy="1846.9" r="18.7" fill="#eba668"/><text class="g" x="1798.5" y="1861.0">CcbZIP38</text>
<circle cx="1476.6" cy="1894.5" r="18.7" fill="#adcaab"/><circle cx="1599.8" cy="1894.5" r="18.7" fill="#c5d09f"/><circle cx="1722.1" cy="1894.5" r="18.7" fill="#b5cca7"/><text class="g" x="1798.5" y="1908.6">CcbZIP39</text>
<circle cx="1476.6" cy="1942.1" r="18.7" fill="#f1b771"/><circle cx="1599.8" cy="1942.1" r="18.7" fill="#e69860"/><circle cx="1722.1" cy="1942.1" r="18.7" fill="#e99f64"/><text class="g" x="1798.5" y="1956.2">CcbZIP40</text>
<circle cx="1476.6" cy="1989.7" r="18.7" fill="#f5da89"/><circle cx="1599.8" cy="1989.7" r="18.7" fill="#7dc0c1"/><circle cx="1722.1" cy="1989.7" r="18.7" fill="#91c4b8"/><text class="g" x="1798.5" y="2003.8">CcbZIP41</text>
<circle cx="1476.6" cy="2037.3" r="18.7" fill="#bdcea3"/><circle cx="1599.8" cy="2037.3" r="18.7" fill="#85c1be"/><circle cx="1722.1" cy="2037.3" r="18.7" fill="#71bdc7"/><text class="g" x="1798.5" y="2051.4">CcbZIP42</text>
<circle cx="1476.6" cy="2084.9" r="18.7" fill="#a9c9ad"/><circle cx="1599.8" cy="2084.9" r="18.7" fill="#89c2bc"/><circle cx="1722.1" cy="2084.9" r="18.7" fill="#91c4b8"/><text class="g" x="1798.5" y="2099.0">CcbZIP43</text>
<circle cx="1476.6" cy="2132.5" r="18.7" fill="#f3bd74"/><circle cx="1599.8" cy="2132.5" r="18.7" fill="#75bec5"/><circle cx="1722.1" cy="2132.5" r="18.7" fill="#65bacd"/><text class="g" x="1798.5" y="2146.6">CcbZIP44</text>
<circle cx="1476.6" cy="2180.1" r="18.7" fill="#99c6b4"/><circle cx="1599.8" cy="2180.1" r="18.7" fill="#b9cda5"/><circle cx="1722.1" cy="2180.1" r="18.7" fill="#d5d398"/><text class="g" x="1798.5" y="2194.2">CcbZIP45</text>
<circle cx="1476.6" cy="2227.8" r="18.7" fill="#4db5d8"/><circle cx="1599.8" cy="2227.8" r="18.7" fill="#4db5d8"/><circle cx="1722.1" cy="2227.8" r="18.7" fill="#4db5d8"/><text class="g" x="1798.5" y="2241.8">CcbZIP46</text>
<circle cx="1476.6" cy="2275.4" r="18.7" fill="#4db5d8"/><circle cx="1599.8" cy="2275.4" r="18.7" fill="#4db5d8"/><circle cx="1722.1" cy="2275.4" r="18.7" fill="#4db5d8"/><text class="g" x="1798.5" y="2289.5">CcbZIP47</text>
<circle cx="1476.6" cy="2323.0" r="18.7" fill="#a5c8ae"/><circle cx="1599.8" cy="2323.0" r="18.7" fill="#bdcea3"/><circle cx="1722.1" cy="2323.0" r="18.7" fill="#b9cda5"/><text class="g" x="1798.5" y="2337.1">CcbZIP48</text>
<circle cx="1476.6" cy="2370.6" r="18.7" fill="#f8ce7e"/><circle cx="1599.8" cy="2370.6" r="18.7" fill="#f0b36f"/><circle cx="1722.1" cy="2370.6" r="18.7" fill="#f2ba73"/><text class="g" x="1798.5" y="2384.7">CcbZIP49</text>
<circle cx="1476.6" cy="2418.2" r="18.7" fill="#e08455"/><circle cx="1599.8" cy="2418.2" r="18.7" fill="#e08455"/><circle cx="1722.1" cy="2418.2" r="18.7" fill="#e18757"/><text class="g" x="1798.5" y="2432.3">CcbZIP50</text>
<circle cx="1476.6" cy="2465.8" r="18.7" fill="#95c5b6"/><circle cx="1599.8" cy="2465.8" r="18.7" fill="#a5c8ae"/><circle cx="1722.1" cy="2465.8" r="18.7" fill="#a5c8ae"/><text class="g" x="1798.5" y="2479.9">CcbZIP51</text>
<circle cx="1476.6" cy="2513.4" r="18.7" fill="#fbd581"/><circle cx="1599.8" cy="2513.4" r="18.7" fill="#fbd581"/><circle cx="1722.1" cy="2513.4" r="18.7" fill="#f3bd74"/><text class="g" x="1798.5" y="2527.5">CcbZIP52</text>
<circle cx="1476.6" cy="2561.0" r="18.7" fill="#d9d496"/><circle cx="1599.8" cy="2561.0" r="18.7" fill="#e5d790"/><circle cx="1722.1" cy="2561.0" r="18.7" fill="#e1d692"/><text class="g" x="1798.5" y="2575.1">CcbZIP53</text>
<circle cx="1476.6" cy="2608.6" r="18.7" fill="#db764e"/><circle cx="1599.8" cy="2608.6" r="18.7" fill="#edac6b"/><circle cx="1722.1" cy="2608.6" r="18.7" fill="#f6c87a"/><text class="g" x="1798.5" y="2622.7">CcbZIP54</text>
<circle cx="1476.6" cy="2656.2" r="18.7" fill="#ddd594"/><circle cx="1599.8" cy="2656.2" r="18.7" fill="#d1d29a"/><circle cx="1722.1" cy="2656.2" r="18.7" fill="#e9d88e"/><text class="g" x="1798.5" y="2670.3">CcbZIP55</text>
<text class="c" transform="translate(1500.7 2699.5) rotate(-44)">L0U</text>
<text class="c" transform="translate(1623.9 2699.5) rotate(-44)">L1U</text>
<text class="c" transform="translate(1746.2 2699.5) rotate(-44)">L2U</text>
</g>
<g id="panelD">
<text class="L" x="2061.7" y="59.0">D</text>
<circle cx="2147.5" cy="83.2" r="18.7" fill="#e89c62"/><circle cx="2270.3" cy="83.2" r="18.7" fill="#e99f64"/><circle cx="2392.9" cy="83.2" r="18.7" fill="#e5955e"/><text class="g" x="2469.2" y="97.3">CcbZIP01</text>
<circle cx="2147.5" cy="130.8" r="18.7" fill="#4db5d8"/><circle cx="2270.3" cy="130.8" r="18.7" fill="#4db5d8"/><circle cx="2392.9" cy="130.8" r="18.7" fill="#55b7d4"/><text class="g" x="2469.2" y="144.9">CcbZIP02</text>
<circle cx="2147.5" cy="178.4" r="18.7" fill="#e9d88e"/><circle cx="2270.3" cy="178.4" r="18.7" fill="#fddc85"/><circle cx="2392.9" cy="178.4" r="18.7" fill="#f7cb7c"/><text class="g" x="2469.2" y="192.5">CcbZIP03</text>
<circle cx="2147.5" cy="226.0" r="18.7" fill="#4db5d8"/><circle cx="2270.3" cy="226.0" r="18.7" fill="#4db5d8"/><circle cx="2392.9" cy="226.0" r="18.7" fill="#4db5d8"/><text class="g" x="2469.2" y="240.1">CcbZIP04</text>
<circle cx="2147.5" cy="273.6" r="18.7" fill="#75bec5"/><circle cx="2270.3" cy="273.6" r="18.7" fill="#85c1be"/><circle cx="2392.9" cy="273.6" r="18.7" fill="#7dc0c1"/><text class="g" x="2469.2" y="287.7">CcbZIP05</text>
<circle cx="2147.5" cy="321.2" r="18.7" fill="#f9db87"/><circle cx="2270.3" cy="321.2" r="18.7" fill="#edd88d"/><circle cx="2392.9" cy="321.2" r="18.7" fill="#e1d692"/><text class="g" x="2469.2" y="335.4">CcbZIP06</text>
<circle cx="2147.5" cy="368.9" r="18.7" fill="#e99f64"/><circle cx="2270.3" cy="368.9" r="18.7" fill="#e89c62"/><circle cx="2392.9" cy="368.9" r="18.7" fill="#e5955e"/><text class="g" x="2469.2" y="383.0">CcbZIP07</text>
<circle cx="2147.5" cy="416.5" r="18.7" fill="#f2ba73"/><circle cx="2270.3" cy="416.5" r="18.7" fill="#f3bd74"/><circle cx="2392.9" cy="416.5" r="18.7" fill="#f3bd74"/><text class="g" x="2469.2" y="430.6">CcbZIP08</text>
<circle cx="2147.5" cy="464.1" r="18.7" fill="#89c2bc"/><circle cx="2270.3" cy="464.1" r="18.7" fill="#99c6b4"/><circle cx="2392.9" cy="464.1" r="18.7" fill="#89c2bc"/><text class="g" x="2469.2" y="478.2">CcbZIP09</text>
<circle cx="2147.5" cy="511.7" r="18.7" fill="#f3bd74"/><circle cx="2270.3" cy="511.7" r="18.7" fill="#f3bd74"/><circle cx="2392.9" cy="511.7" r="18.7" fill="#eba668"/><text class="g" x="2469.2" y="525.8">CcbZIP10</text>
<circle cx="2147.5" cy="559.3" r="18.7" fill="#d46243"/><circle cx="2270.3" cy="559.3" r="18.7" fill="#d96f4a"/><circle cx="2392.9" cy="559.3" r="18.7" fill="#d86c48"/><text class="g" x="2469.2" y="573.4">CcbZIP11</text>
<circle cx="2147.5" cy="606.9" r="18.7" fill="#4db5d8"/><circle cx="2270.3" cy="606.9" r="18.7" fill="#55b7d4"/><circle cx="2392.9" cy="606.9" r="18.7" fill="#4db5d8"/><text class="g" x="2469.2" y="621.0">CcbZIP12</text>
<circle cx="2147.5" cy="654.5" r="18.7" fill="#f3bd74"/><circle cx="2270.3" cy="654.5" r="18.7" fill="#f2ba73"/><circle cx="2392.9" cy="654.5" r="18.7" fill="#f2ba73"/><text class="g" x="2469.2" y="668.6">CcbZIP13</text>
<circle cx="2147.5" cy="702.1" r="18.7" fill="#e69860"/><circle cx="2270.3" cy="702.1" r="18.7" fill="#e89c62"/><circle cx="2392.9" cy="702.1" r="18.7" fill="#e5955e"/><text class="g" x="2469.2" y="716.2">CcbZIP14</text>
<circle cx="2147.5" cy="749.7" r="18.7" fill="#6dbcc9"/><circle cx="2270.3" cy="749.7" r="18.7" fill="#79bfc3"/><circle cx="2392.9" cy="749.7" r="18.7" fill="#6dbcc9"/><text class="g" x="2469.2" y="763.8">CcbZIP15</text>
<circle cx="2147.5" cy="797.4" r="18.7" fill="#fad27f"/><circle cx="2270.3" cy="797.4" r="18.7" fill="#a5c8ae"/><circle cx="2392.9" cy="797.4" r="18.7" fill="#b5cca7"/><text class="g" x="2469.2" y="811.5">CcbZIP16</text>
<circle cx="2147.5" cy="845.0" r="18.7" fill="#b9cda5"/><circle cx="2270.3" cy="845.0" r="18.7" fill="#a1c8b0"/><circle cx="2392.9" cy="845.0" r="18.7" fill="#9dc7b2"/><text class="g" x="2469.2" y="859.1">CcbZIP17</text>
<circle cx="2147.5" cy="892.6" r="18.7" fill="#4db5d8"/><circle cx="2270.3" cy="892.6" r="18.7" fill="#51b6d6"/><circle cx="2392.9" cy="892.6" r="18.7" fill="#4db5d8"/><text class="g" x="2469.2" y="906.7">CcbZIP18</text>
<circle cx="2147.5" cy="940.2" r="18.7" fill="#f4c176"/><circle cx="2270.3" cy="940.2" r="18.7" fill="#fad27f"/><circle cx="2392.9" cy="940.2" r="18.7" fill="#fddc85"/><text class="g" x="2469.2" y="954.3">CcbZIP19</text>
<circle cx="2147.5" cy="987.8" r="18.7" fill="#e1d692"/><circle cx="2270.3" cy="987.8" r="18.7" fill="#d9d496"/><circle cx="2392.9" cy="987.8" r="18.7" fill="#d9d496"/><text class="g" x="2469.2" y="1001.9">CcbZIP20</text>
<circle cx="2147.5" cy="1035.4" r="18.7" fill="#61b9cf"/><circle cx="2270.3" cy="1035.4" r="18.7" fill="#81c1bf"/><circle cx="2392.9" cy="1035.4" r="18.7" fill="#4db5d8"/><text class="g" x="2469.2" y="1049.5">CcbZIP21</text>
<circle cx="2147.5" cy="1083.0" r="18.7" fill="#ddd594"/><circle cx="2270.3" cy="1083.0" r="18.7" fill="#fcd983"/><circle cx="2392.9" cy="1083.0" r="18.7" fill="#fcd983"/><text class="g" x="2469.2" y="1097.1">CcbZIP22</text>
<circle cx="2147.5" cy="1130.6" r="18.7" fill="#f3bd74"/><circle cx="2270.3" cy="1130.6" r="18.7" fill="#edac6b"/><circle cx="2392.9" cy="1130.6" r="18.7" fill="#edac6b"/><text class="g" x="2469.2" y="1144.7">CcbZIP23</text>
<circle cx="2147.5" cy="1178.2" r="18.7" fill="#eba668"/><circle cx="2270.3" cy="1178.2" r="18.7" fill="#fad27f"/><circle cx="2392.9" cy="1178.2" r="18.7" fill="#f7cb7c"/><text class="g" x="2469.2" y="1192.3">CcbZIP24</text>
<circle cx="2147.5" cy="1225.8" r="18.7" fill="#e08455"/><circle cx="2270.3" cy="1225.8" r="18.7" fill="#e38e5b"/><circle cx="2392.9" cy="1225.8" r="18.7" fill="#e18757"/><text class="g" x="2469.2" y="1239.9">CcbZIP25</text>
<circle cx="2147.5" cy="1273.5" r="18.7" fill="#c1cfa1"/><circle cx="2270.3" cy="1273.5" r="18.7" fill="#ddd594"/><circle cx="2392.9" cy="1273.5" r="18.7" fill="#f4c176"/><text class="g" x="2469.2" y="1287.5">CcbZIP26</text>
<circle cx="2147.5" cy="1321.1" r="18.7" fill="#e28b59"/><circle cx="2270.3" cy="1321.1" r="18.7" fill="#e18757"/><circle cx="2392.9" cy="1321.1" r="18.7" fill="#df8053"/><text class="g" x="2469.2" y="1335.2">CcbZIP27</text>
<circle cx="2147.5" cy="1368.7" r="18.7" fill="#eaa266"/><circle cx="2270.3" cy="1368.7" r="18.7" fill="#e99f64"/><circle cx="2392.9" cy="1368.7" r="18.7" fill="#eba668"/><text class="g" x="2469.2" y="1382.8">CcbZIP28</text>
<circle cx="2147.5" cy="1416.3" r="18.7" fill="#61b9cf"/><circle cx="2270.3" cy="1416.3" r="18.7" fill="#65bacd"/><circle cx="2392.9" cy="1416.3" r="18.7" fill="#51b6d6"/><text class="g" x="2469.2" y="1430.4">CcbZIP29</text>
<circle cx="2147.5" cy="1463.9" r="18.7" fill="#b1cba9"/><circle cx="2270.3" cy="1463.9" r="18.7" fill="#c1cfa1"/><circle cx="2392.9" cy="1463.9" r="18.7" fill="#c1cfa1"/><text class="g" x="2469.2" y="1478.0">CcbZIP30</text>
<circle cx="2147.5" cy="1511.5" r="18.7" fill="#f0b36f"/><circle cx="2270.3" cy="1511.5" r="18.7" fill="#f2ba73"/><circle cx="2392.9" cy="1511.5" r="18.7" fill="#f2ba73"/><text class="g" x="2469.2" y="1525.6">CcbZIP31</text>
<circle cx="2147.5" cy="1559.1" r="18.7" fill="#cdd19c"/><circle cx="2270.3" cy="1559.1" r="18.7" fill="#e5d790"/><circle cx="2392.9" cy="1559.1" r="18.7" fill="#cdd19c"/><text class="g" x="2469.2" y="1573.2">CcbZIP32</text>
<circle cx="2147.5" cy="1606.7" r="18.7" fill="#75bec5"/><circle cx="2270.3" cy="1606.7" r="18.7" fill="#75bec5"/><circle cx="2392.9" cy="1606.7" r="18.7" fill="#7dc0c1"/><text class="g" x="2469.2" y="1620.8">CcbZIP33</text>
<circle cx="2147.5" cy="1654.3" r="18.7" fill="#da734c"/><circle cx="2270.3" cy="1654.3" r="18.7" fill="#d66545"/><circle cx="2392.9" cy="1654.3" r="18.7" fill="#d86c48"/><text class="g" x="2469.2" y="1668.4">CcbZIP34</text>
<circle cx="2147.5" cy="1701.9" r="18.7" fill="#4db5d8"/><circle cx="2270.3" cy="1701.9" r="18.7" fill="#4db5d8"/><circle cx="2392.9" cy="1701.9" r="18.7" fill="#4db5d8"/><text class="g" x="2469.2" y="1716.0">CcbZIP35</text>
<circle cx="2147.5" cy="1749.5" r="18.7" fill="#ddd594"/><circle cx="2270.3" cy="1749.5" r="18.7" fill="#d9d496"/><circle cx="2392.9" cy="1749.5" r="18.7" fill="#d1d29a"/><text class="g" x="2469.2" y="1763.6">CcbZIP36</text>
<circle cx="2147.5" cy="1797.2" r="18.7" fill="#4db5d8"/><circle cx="2270.3" cy="1797.2" r="18.7" fill="#4db5d8"/><circle cx="2392.9" cy="1797.2" r="18.7" fill="#4db5d8"/><text class="g" x="2469.2" y="1811.3">CcbZIP37</text>
<circle cx="2147.5" cy="1844.8" r="18.7" fill="#e38e5b"/><circle cx="2270.3" cy="1844.8" r="18.7" fill="#e28b59"/><circle cx="2392.9" cy="1844.8" r="18.7" fill="#e28b59"/><text class="g" x="2469.2" y="1858.9">CcbZIP38</text>
<circle cx="2147.5" cy="1892.4" r="18.7" fill="#c1cfa1"/><circle cx="2270.3" cy="1892.4" r="18.7" fill="#bdcea3"/><circle cx="2392.9" cy="1892.4" r="18.7" fill="#bdcea3"/><text class="g" x="2469.2" y="1906.5">CcbZIP39</text>
<circle cx="2147.5" cy="1940.0" r="18.7" fill="#f2ba73"/><circle cx="2270.3" cy="1940.0" r="18.7" fill="#de7d52"/><circle cx="2392.9" cy="1940.0" r="18.7" fill="#de7d52"/><text class="g" x="2469.2" y="1954.1">CcbZIP40</text>
<circle cx="2147.5" cy="1987.6" r="18.7" fill="#edac6b"/><circle cx="2270.3" cy="1987.6" r="18.7" fill="#f4c176"/><circle cx="2392.9" cy="1987.6" r="18.7" fill="#eba668"/><text class="g" x="2469.2" y="2001.7">CcbZIP41</text>
<circle cx="2147.5" cy="2035.2" r="18.7" fill="#9dc7b2"/><circle cx="2270.3" cy="2035.2" r="18.7" fill="#a5c8ae"/><circle cx="2392.9" cy="2035.2" r="18.7" fill="#9dc7b2"/><text class="g" x="2469.2" y="2049.3">CcbZIP42</text>
<circle cx="2147.5" cy="2082.8" r="18.7" fill="#adcaab"/><circle cx="2270.3" cy="2082.8" r="18.7" fill="#a5c8ae"/><circle cx="2392.9" cy="2082.8" r="18.7" fill="#bdcea3"/><text class="g" x="2469.2" y="2096.9">CcbZIP43</text>
<circle cx="2147.5" cy="2130.4" r="18.7" fill="#e5955e"/><circle cx="2270.3" cy="2130.4" r="18.7" fill="#e4915d"/><circle cx="2392.9" cy="2130.4" r="18.7" fill="#df8053"/><text class="g" x="2469.2" y="2144.5">CcbZIP44</text>
<circle cx="2147.5" cy="2178.0" r="18.7" fill="#a1c8b0"/><circle cx="2270.3" cy="2178.0" r="18.7" fill="#a1c8b0"/><circle cx="2392.9" cy="2178.0" r="18.7" fill="#a1c8b0"/><text class="g" x="2469.2" y="2192.1">CcbZIP45</text>
<circle cx="2147.5" cy="2225.6" r="18.7" fill="#4db5d8"/><circle cx="2270.3" cy="2225.6" r="18.7" fill="#4db5d8"/><circle cx="2392.9" cy="2225.6" r="18.7" fill="#4db5d8"/><text class="g" x="2469.2" y="2239.7">CcbZIP46</text>
<circle cx="2147.5" cy="2273.3" r="18.7" fill="#4db5d8"/><circle cx="2270.3" cy="2273.3" r="18.7" fill="#4db5d8"/><circle cx="2392.9" cy="2273.3" r="18.7" fill="#4db5d8"/><text class="g" x="2469.2" y="2287.4">CcbZIP47</text>
<circle cx="2147.5" cy="2320.9" r="18.7" fill="#b1cba9"/><circle cx="2270.3" cy="2320.9" r="18.7" fill="#b1cba9"/><circle cx="2392.9" cy="2320.9" r="18.7" fill="#b1cba9"/><text class="g" x="2469.2" y="2335.0">CcbZIP48</text>
<circle cx="2147.5" cy="2368.5" r="18.7" fill="#f0b36f"/><circle cx="2270.3" cy="2368.5" r="18.7" fill="#e89c62"/><circle cx="2392.9" cy="2368.5" r="18.7" fill="#e5955e"/><text class="g" x="2469.2" y="2382.6">CcbZIP49</text>
<circle cx="2147.5" cy="2416.1" r="18.7" fill="#dc7a50"/><circle cx="2270.3" cy="2416.1" r="18.7" fill="#d86c48"/><circle cx="2392.9" cy="2416.1" r="18.7" fill="#db764e"/><text class="g" x="2469.2" y="2430.2">CcbZIP50</text>
<circle cx="2147.5" cy="2463.7" r="18.7" fill="#99c6b4"/><circle cx="2270.3" cy="2463.7" r="18.7" fill="#b1cba9"/><circle cx="2392.9" cy="2463.7" r="18.7" fill="#b5cca7"/><text class="g" x="2469.2" y="2477.8">CcbZIP51</text>
<circle cx="2147.5" cy="2511.3" r="18.7" fill="#f8ce7e"/><circle cx="2270.3" cy="2511.3" r="18.7" fill="#f7cb7c"/><circle cx="2392.9" cy="2511.3" r="18.7" fill="#f8ce7e"/><text class="g" x="2469.2" y="2525.4">CcbZIP52</text>
<circle cx="2147.5" cy="2558.9" r="18.7" fill="#e9d88e"/><circle cx="2270.3" cy="2558.9" r="18.7" fill="#e9d88e"/><circle cx="2392.9" cy="2558.9" r="18.7" fill="#e5d790"/><text class="g" x="2469.2" y="2573.0">CcbZIP53</text>
<circle cx="2147.5" cy="2606.5" r="18.7" fill="#d76946"/><circle cx="2270.3" cy="2606.5" r="18.7" fill="#cc4734"/><circle cx="2392.9" cy="2606.5" r="18.7" fill="#cc4734"/><text class="g" x="2469.2" y="2620.6">CcbZIP54</text>
<circle cx="2147.5" cy="2654.1" r="18.7" fill="#cdd19c"/><circle cx="2270.3" cy="2654.1" r="18.7" fill="#f1d98b"/><circle cx="2392.9" cy="2654.1" r="18.7" fill="#fbd581"/><text class="g" x="2469.2" y="2668.2">CcbZIP55</text>
<text class="c" transform="translate(2171.6 2697.8) rotate(-44)">L0D</text>
<text class="c" transform="translate(2294.4 2697.8) rotate(-44)">L1D</text>
<text class="c" transform="translate(2417.0 2697.8) rotate(-44)">L2D</text>
</g>
<g id="colorbar">
<rect x="2716.0" y="71.6" width="64.0" height="503.6" fill="url(#cb)"/>
<rect x="2779.4" y="71.6" width="4.4" height="503.6" fill="#000"/>
<rect x="2782" y="71.8" width="11" height="4" fill="#000"/><text class="t" x="2799" y="88.2">10.00</text>
<rect x="2782" y="171.6" width="11" height="4" fill="#000"/><text class="t" x="2799" y="188.0">8.00</text>
<rect x="2782" y="271.4" width="11" height="4" fill="#000"/><text class="t" x="2799" y="287.8">6.00</text>
<rect x="2782" y="371.2" width="11" height="4" fill="#000"/><text class="t" x="2799" y="387.6">4.00</text>
<rect x="2782" y="471.0" width="11" height="4" fill="#000"/><text class="t" x="2799" y="487.4">2.00</text>
<rect x="2782" y="570.8" width="11" height="4" fill="#000"/><text class="t" x="2799" y="587.2">0.00</text>
</g>
</svg>
</body></html>
